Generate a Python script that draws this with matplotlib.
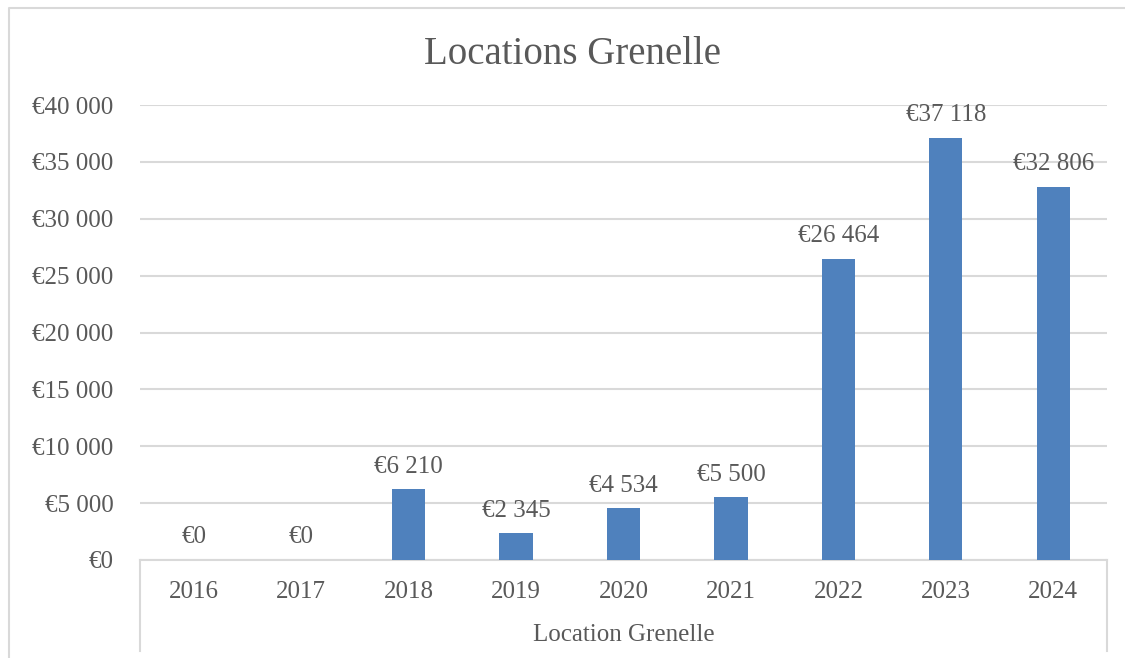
import matplotlib.pyplot as plt
from matplotlib.lines import Line2D

# data
years = ['2016', '2017', '2018', '2019', '2020', '2021', '2022', '2023', '2024']
amounts = [0, 0, 6210, 2345, 4534, 5500, 26464, 37118, 32806]
y_ticks = [0, 5000, 10000, 15000, 20000, 25000, 30000, 35000, 40000]


def euro(v):
    return '€' + format(int(v), ',').replace(',', ' ')


plt.rcParams['font.family'] = ['Liberation Serif', 'DejaVu Serif']
text_col = '#595959'
grid_col = '#D9D9D9'
bar_col = '#4F81BD'

fig = plt.figure(figsize=(11.25, 6.58), dpi=100)
W, H = 1125, 658
ax = fig.add_axes([140 / W, 1 - 560 / H, (1107 - 140) / W, (560 - 105) / H])

x = list(range(len(years)))
bars = ax.bar(x, amounts, width=0.31, color=bar_col, zorder=3)

ax.set_xlim(-0.5, len(years) - 0.5)
ax.set_ylim(0, 40000)
ax.set_yticks(y_ticks)
ax.set_yticklabels([euro(v) for v in y_ticks])
ax.tick_params(axis='y', length=0, pad=19, labelsize=18, labelcolor=text_col)
ax.set_xticks([])
ax.grid(axis='y', color=grid_col, linewidth=1.5, zorder=0)
for s in ['top', 'right', 'left']:
    ax.spines[s].set_visible(False)
ax.spines['bottom'].set_color(grid_col)
ax.spines['bottom'].set_linewidth(1.5)

# data labels
for xi, v in zip(x, amounts):
    ax.annotate(euro(v), (xi, v), xytext=(0, 12), textcoords='offset points',
                ha='center', va='baseline', fontsize=18, color=text_col)

# category axis box (Excel style)
for px in [140, 1107]:
    fig.add_artist(Line2D([px / W, px / W], [1 - 560 / H, 1 - 651 / H],
                          color=grid_col, linewidth=1.5))
for xi, yr in zip(x, years):
    fig.text((140 + (xi + 0.5) * (1107 - 140) / 9) / W, 1 - 598 / H, yr,
             ha='center', va='baseline', fontsize=18, color=text_col)
fig.text((140 + 1107) / 2 / W, 1 - 641 / H, 'Location Grenelle',
         ha='center', va='baseline', fontsize=18, color=text_col)

# title
fig.text((427 + 718) / 2 / W, 1 - 64 / H, 'Locations Grenelle',
         ha='center', va='baseline', fontsize=28, color=text_col)

# chart border
fig.add_artist(Line2D([9 / W, 9 / W, 1], [0, 1 - 8 / H, 1 - 8 / H],
                      color=grid_col, linewidth=1.5))

fig.savefig('out.png', dpi=100)
